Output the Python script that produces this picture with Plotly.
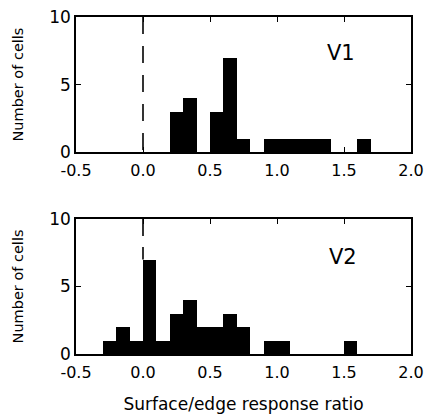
import plotly.graph_objects as go

# Data (bin left edges, width 0.1)
v1_bin_left = [0.2, 0.3, 0.5, 0.6, 0.7, 0.9, 1.0, 1.1, 1.2, 1.3, 1.6]
v1_counts   = [3,   4,   3,   7,   1,   1,   1,   1,   1,   1,   1]
v2_bin_left = [-0.3, -0.2, -0.1, 0.0, 0.1, 0.2, 0.3, 0.4, 0.5, 0.6, 0.7, 0.9, 1.0, 1.5]
v2_counts   = [1,    2,    1,    7,   1,   3,   4,   2,   2,   3,   2,   1,   1,   1]
bin_width = 0.1
x_ticks = [-0.5, 0.0, 0.5, 1.0, 1.5, 2.0]
x_tick_labels = ["-0.5", "0.0", "0.5", "1.0", "1.5", "2.0"]
y_ticks = [0, 5, 10]
panel_labels = ["V1", "V2"]

fig = go.Figure()
fig.add_trace(go.Bar(x=[b + bin_width / 2 for b in v1_bin_left], y=v1_counts,
                     width=bin_width, marker=dict(color="black", line=dict(width=0)),
                     xaxis="x", yaxis="y", showlegend=False))
fig.add_trace(go.Bar(x=[b + bin_width / 2 for b in v2_bin_left], y=v2_counts,
                     width=bin_width, marker=dict(color="black", line=dict(width=0)),
                     xaxis="x2", yaxis="y2", showlegend=False))

font = dict(family="DejaVu Sans, sans-serif", color="black")
common_x = dict(range=[-0.5, 2.0], tickvals=x_ticks, ticktext=x_tick_labels,
                showline=True, linecolor="black", linewidth=1.5, mirror="ticks",
                ticks="inside", ticklen=5, tickcolor="black", tickwidth=1.2,
                showgrid=False, zeroline=False, automargin=False,
                ticklabelstandoff=3, ticklabeloverflow="allow",
                tickfont=dict(size=16, **font))
common_y = dict(range=[0, 10], tickvals=y_ticks,
                showline=True, linecolor="black", linewidth=1.5, mirror="ticks",
                ticks="inside", ticklen=5, tickcolor="black", tickwidth=1.2,
                showgrid=False, zeroline=False, automargin=False,
                ticklabeloverflow="allow",
                tickfont=dict(size=17, **font),
                title=dict(text="Number of cells", font=dict(size=14.5, **font), standoff=22))

fig.update_layout(
    width=425, height=414,
    margin=dict(l=76, r=14, t=17, b=60),
    plot_bgcolor="white", paper_bgcolor="white",
    bargap=0,
    xaxis=dict(domain=[0, 1], anchor="y", **common_x),
    yaxis=dict(domain=[0.599, 1.0], anchor="x", **common_y),
    xaxis2=dict(domain=[0, 1], anchor="y2", **common_x,
                title=dict(text="Surface/edge response ratio", font=dict(size=17, **font), standoff=26)),
    yaxis2=dict(domain=[0.0, 0.4006], anchor="x2", **common_y),
)

# dashed reference lines at x = 0 (drawn from the top down)
fig.add_shape(type="line", x0=0, x1=0, y0=10, y1=0, xref="x", yref="y",
              line=dict(color="black", width=1.6, dash="17px,12px"))
fig.add_shape(type="line", x0=0, x1=0, y0=10, y1=7, xref="x2", yref="y2",
              line=dict(color="black", width=1.6, dash="17px,11px"))

fig.add_annotation(x=1.48, y=7.35, xref="x", yref="y", text=panel_labels[0],
                   showarrow=False, font=dict(size=21, **font))
fig.add_annotation(x=1.49, y=7.15, xref="x2", yref="y2", text=panel_labels[1],
                   showarrow=False, font=dict(size=21, **font))

fig.write_html("out.html", config={"displayModeBar": False},
               post_script="document.body.style.margin='0';document.body.style.overflow='hidden';")
